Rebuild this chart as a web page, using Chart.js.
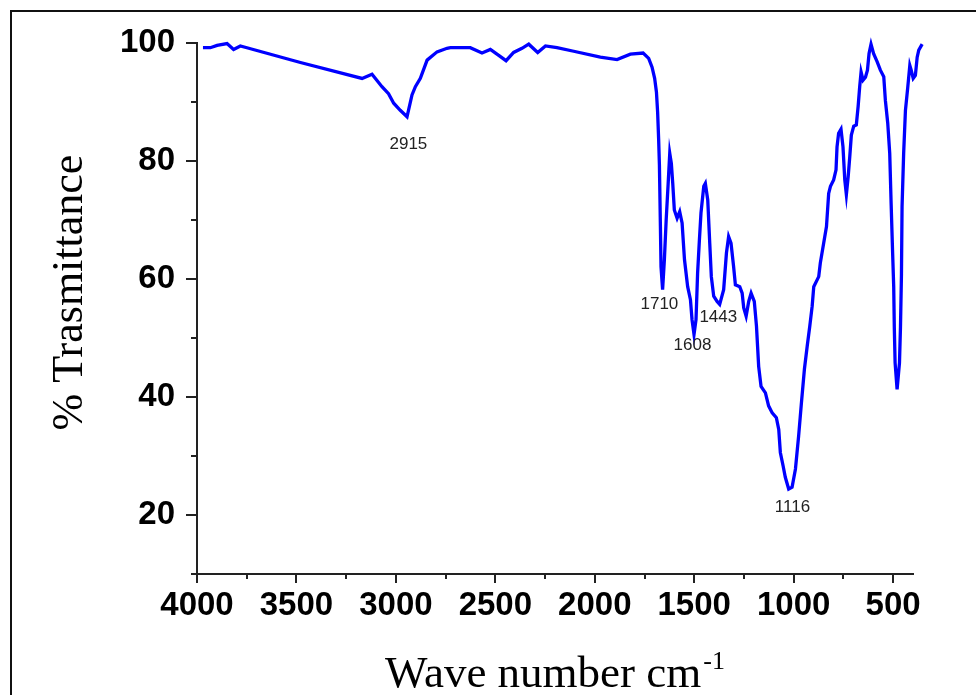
<!DOCTYPE html>
<html>
<head>
<meta charset="utf-8">
<script src="https://cdn.jsdelivr.net/npm/chart.js@4"></script>
<style>
  html, body { margin: 0; padding: 0; background: #fff; }
  #wrap { width: 976px; height: 695px; }
</style>
</head>
<body>
<div id="wrap"><canvas id="irChart" width="976" height="695"></canvas></div>
<script>
// FTIR spectrum (cm-1, % transmittance)
const waveNumber = [
  3970, 3933, 3899, 3849, 3816, 3782, 3749, 3480, 3170, 3120, 3070, 3037, 3011, 2978, 2944,
  2919, 2902, 2877, 2843, 2793, 2743, 2726, 2626, 2567, 2525, 2483, 2446, 2408, 2366, 2332,
  2287, 2248, 2190, 2106, 1972, 1888, 1821, 1757, 1729, 1712, 1699, 1690, 1684, 1679, 1675,
  1670, 1667, 1659, 1650, 1641, 1631, 1623, 1615, 1608, 1600, 1586, 1573, 1561, 1549, 1533,
  1519, 1511, 1501, 1491, 1483, 1474, 1466, 1452, 1444, 1432, 1422, 1414, 1402, 1385, 1372,
  1352, 1338, 1327, 1315, 1302, 1293, 1271, 1259, 1251, 1239, 1226, 1214, 1198, 1187, 1176,
  1164, 1142, 1126, 1108, 1087, 1075, 1067, 1053, 1042, 1025, 1008, 991, 975, 961, 946,
  932, 919, 907, 899, 874, 866, 849, 835, 824, 815, 799, 787, 782, 774, 762,
  752, 743, 735, 726, 718, 710, 698, 685, 676, 668, 661, 651, 639, 629, 621,
  611, 598, 580, 564, 547, 539, 527, 517, 510, 503, 497, 494, 490, 480, 468,
  463, 458, 455, 447, 438, 426, 416, 409, 399, 388, 379, 371, 354
];
const transmittance = [
  99.2, 99.2, 99.6, 99.9, 98.9, 99.5, 99.2, 96.7, 94.0, 94.7, 92.6, 91.4, 89.8, 88.6, 87.5,
  91.2, 92.6, 94.0, 97.1, 98.5, 99.1, 99.2, 99.2, 98.3, 98.9, 97.9, 97.0, 98.4, 99.1, 99.8,
  98.4, 99.5, 99.2, 98.6, 97.6, 97.2, 98.1, 98.3, 97.4, 95.9, 94.0, 91.7, 88.3, 83.8, 79.3,
  68.9, 62.1, 58.2, 63.3, 70.0, 76.2, 81.3, 79.6, 76.2, 71.7, 70.3, 71.4, 69.5, 63.3, 58.7,
  56.5, 53.1, 50.6, 53.1, 61.0, 66.6, 71.2, 75.7, 76.2, 73.4, 66.1, 60.4, 57.1, 56.2, 55.7,
  58.2, 64.4, 67.2, 66.1, 62.1, 59.0, 58.7, 57.6, 55.1, 53.7, 56.2, 57.6, 56.2, 52.0, 45.2,
  41.8, 40.7, 38.5, 37.3, 36.5, 34.5, 30.6, 28.3, 26.4, 24.4, 24.7, 27.8, 33.4, 39.0, 44.7,
  48.6, 52.0, 55.4, 58.7, 60.4, 62.7, 66.1, 68.9, 74.5, 75.7, 76.8, 78.5, 82.4, 84.7, 85.4,
  82.4, 76.8, 74.3, 77.3, 80.7, 84.4, 85.9, 86.1, 89.2, 92.6, 95.1, 93.7, 94.2, 95.4, 98.2,
  99.8, 98.2, 96.8, 95.4, 94.3, 90.3, 86.4, 81.3, 72.8, 65.0, 58.7, 51.8, 45.8, 41.3, 45.8,
  51.8, 60.8, 72.3, 81.3, 88.6, 92.6, 96.2, 95.4, 94.0, 94.5, 97.6, 98.8, 99.8
];

const xMajorTicks = [4000, 3500, 3000, 2500, 2000, 1500, 1000, 500];
const xMinorTicks = [3750, 3250, 2750, 2250, 1750, 1250, 750];
const yMajorTicks = [20, 40, 60, 80, 100];
const yMinorTicks = [10, 30, 50, 70, 90];

// peak annotations: text and where it sits (cm-1, %T)
const peakNames = ['2915', '1710', '1608', '1443', '1116'];
const peakLabelX = [2937, 1675, 1509, 1379, 1006];
const peakLabelY = [82.8, 55.7, 48.7, 53.5, 21.3];

const xTitle = 'Wave number cm';
const xTitleSup = '-1';
const yTitle = '% Trasmittance';

const points = waveNumber.map((w, i) => ({ x: w, y: transmittance[i] }));

// frame, tick marks, titles and peak numbers
const extras = {
  id: 'extras',
  afterDraw(chart) {
    const c = chart.ctx, a = chart.chartArea;
    const xs = chart.scales.x, ys = chart.scales.y;
    c.save();

    c.strokeStyle = '#111';
    c.lineWidth = 2;
    c.strokeRect(11, 11, chart.width + 20, chart.height + 20);

    c.strokeStyle = '#222';
    c.lineWidth = 2;
    c.beginPath();
    xMajorTicks.forEach(v => { const p = Math.round(xs.getPixelForValue(v)); c.moveTo(p, a.bottom); c.lineTo(p, a.bottom + 9); });
    xMinorTicks.forEach(v => { const p = Math.round(xs.getPixelForValue(v)); c.moveTo(p, a.bottom); c.lineTo(p, a.bottom + 5); });
    yMajorTicks.forEach(v => { const p = Math.round(ys.getPixelForValue(v)); c.moveTo(a.left, p); c.lineTo(a.left - 11, p); });
    yMinorTicks.forEach(v => { const p = Math.round(ys.getPixelForValue(v)); c.moveTo(a.left, p); c.lineTo(a.left - 6, p); });
    c.stroke();

    // peak numbers
    c.fillStyle = '#222';
    c.font = '17px "Liberation Sans", Arial, sans-serif';
    c.textAlign = 'center';
    c.textBaseline = 'middle';
    peakNames.forEach((t, i) => {
      c.fillText(t, xs.getPixelForValue(peakLabelX[i]), ys.getPixelForValue(peakLabelY[i]));
    });

    // x title with superscript
    c.fillStyle = '#000';
    c.textAlign = 'left';
    c.textBaseline = 'alphabetic';
    const mainFont = '45px "Liberation Serif", "Times New Roman", serif';
    const supFont = '26px "Liberation Serif", "Times New Roman", serif';
    c.font = mainFont;
    const w1 = c.measureText(xTitle).width;
    c.font = supFont;
    const w2 = c.measureText(xTitleSup).width;
    const cx = (a.left + a.right) / 2;
    const x0 = cx - (w1 + w2 + 2) / 2;
    c.font = mainFont;
    c.fillText(xTitle, x0, 687);
    c.font = supFont;
    c.fillText(xTitleSup, x0 + w1 + 2, 669);

    // y title
    c.translate(70, (a.top + a.bottom) / 2 - 16);
    c.rotate(-Math.PI / 2);
    c.font = '44px "Liberation Serif", "Times New Roman", serif';
    c.textAlign = 'center';
    c.textBaseline = 'middle';
    c.fillText(yTitle, 0, 0);

    c.restore();
  }
};

const ctx = document.getElementById('irChart').getContext('2d');
const irChart = new Chart(ctx, {
  type: 'line',
  data: {
    datasets: [{
      data: points,
      borderColor: '#0000ff',
      borderWidth: 3.3,
      pointRadius: 0,
      tension: 0,
      fill: false,
      clip: false
    }]
  },
  options: {
    responsive: false,
    animation: false,
    devicePixelRatio: 1,
    layout: { padding: { top: 43, right: 63, left: 0, bottom: 0 } },
    plugins: {
      legend: { display: false },
      tooltip: { enabled: false }
    },
    scales: {
      x: {
        type: 'linear',
        reverse: true,
        min: 400,
        max: 4000,
        grid: { display: false, drawTicks: false },
        border: { display: true, color: '#222', width: 2 },
        afterBuildTicks: s => { s.ticks = xMajorTicks.map(v => ({ value: v })); },
        afterFit: s => { s.height = 121; },
        ticks: {
          autoSkip: false,
          maxRotation: 0,
          padding: 12,
          color: '#000',
          callback: v => String(v),
          font: { family: '"Liberation Sans", Arial, sans-serif', size: 33, weight: 'bold' }
        }
      },
      y: {
        type: 'linear',
        min: 10,
        max: 100,
        grid: { display: false, drawTicks: false },
        border: { display: true, color: '#222', width: 2 },
        afterBuildTicks: s => { s.ticks = yMajorTicks.map(v => ({ value: v })); },
        afterFit: s => { s.width = 197; },
        ticks: {
          padding: 22,
          color: '#000',
          callback: v => String(v),
          font: { family: '"Liberation Sans", Arial, sans-serif', size: 33, weight: 'bold' }
        }
      }
    }
  },
  plugins: [extras]
});
</script>
</body>
</html>
